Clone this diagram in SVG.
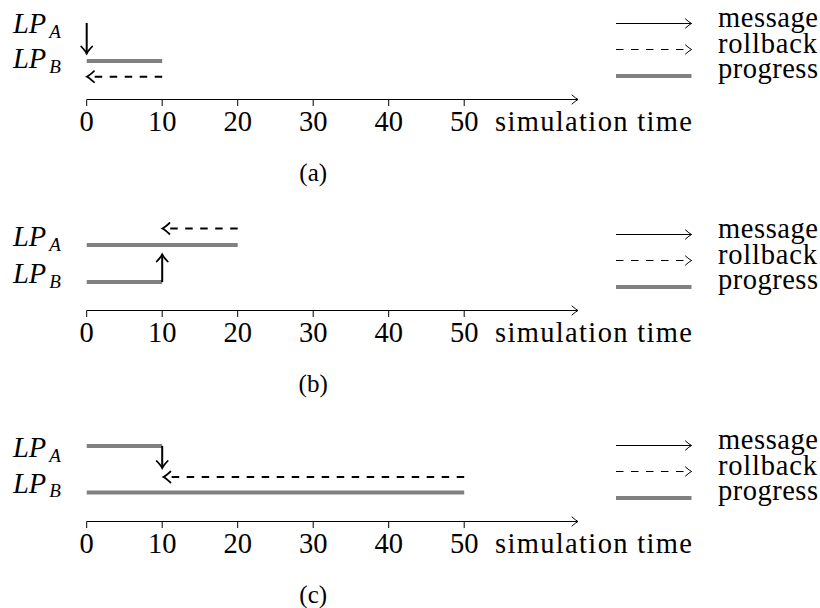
<svg xmlns="http://www.w3.org/2000/svg" width="820" height="608" viewBox="0 0 820 608">
<style>
text{font-family:"Liberation Serif","Tinos","Times New Roman","DejaVu Serif",serif}
.txt{font-size:28.5px;fill:#000}
.lp{font-style:italic;font-size:28.5px;fill:#000}
.sub{font-size:19px}
.num{text-anchor:middle}
.cap{font-size:25px;text-anchor:middle;fill:#000}
.prog{stroke:#808080;stroke-width:4;fill:none}
.msg{stroke:#000;stroke-width:2;fill:none;marker-end:url(#tipThick)}
.rb{stroke:#000;stroke-width:2;fill:none;stroke-dasharray:7.5 7.5;marker-end:url(#tipThick)}
.lmsg{stroke:#000;stroke-width:1;fill:none;marker-end:url(#tipThin)}
.lrb{stroke:#000;stroke-width:1;fill:none;stroke-dasharray:7.5 7.5;marker-end:url(#tipThin)}
.axis{stroke:#000;stroke-width:1;fill:none}
.axarrow{marker-end:url(#tipThin)}
</style>
<defs>
<marker id="tipThick" markerUnits="userSpaceOnUse" markerWidth="14" markerHeight="14" refX="0" refY="0" orient="auto" overflow="visible">
<path d="M-7,-5.5 Q-2.5,-1.2 0,0 Q-2.5,1.2 -7,5.5" fill="none" stroke="#000" stroke-width="1.8" stroke-linecap="round"/>
</marker>
<marker id="tipThin" markerUnits="userSpaceOnUse" markerWidth="14" markerHeight="14" refX="0" refY="0" orient="auto" overflow="visible">
<path d="M-6,-4.5 Q-2,-1 0,0 Q-2,1 -6,4.5" fill="none" stroke="#000" stroke-width="1" stroke-linecap="round"/>
</marker>
<g id="axisTpl">
<path class="axis axarrow" d="M86.7,99.5 H578"/>
<path class="axis" d="M86.7,99.5 V106 M162.2,99.5 V106 M237.7,99.5 V106 M313.2,99.5 V106 M388.7,99.5 V106 M464.2,99.5 V106"/>
<text class="txt num" x="86.7" y="131">0</text>
<text class="txt num" x="162.2" y="131">10</text>
<text class="txt num" x="237.7" y="131">20</text>
<text class="txt num" x="313.2" y="131">30</text>
<text class="txt num" x="388.7" y="131">40</text>
<text class="txt num" x="464.2" y="131">50</text>
<text class="txt" x="495" y="131" textLength="197" lengthAdjust="spacing">simulation time</text>
</g>
<g id="legendTpl">
<path class="lmsg" d="M616,23.5 H691.5"/>
<path class="lrb" d="M616,49.5 H691.5"/>
<path class="prog" d="M616,76 H691.5"/>
<text class="txt" x="718" y="27" textLength="100" lengthAdjust="spacing">message</text>
<text class="txt" x="718" y="53" textLength="99" lengthAdjust="spacing">rollback</text>
<text class="txt" x="718" y="78" textLength="100" lengthAdjust="spacing">progress</text>
</g>
</defs>

<!-- Panel (a) -->
<g id="panel-a">
<g id="a-LPA"><text class="lp" x="13" y="33">LP<tspan class="sub" dx="3" dy="4.5">A</tspan></text></g>
<g id="a-LPB"><text class="lp" x="13" y="68">LP<tspan class="sub" dx="3" dy="4.5">B</tspan></text>
<path class="prog" d="M86.7,61 H162.2"/></g>
<g id="a-connectors">
<path class="msg" d="M86.7,23 V53.5"/>
<path class="rb" d="M162.2,76.7 H87"/>
</g>
<g id="a-axis"><use href="#axisTpl"/></g>
<g id="a-legend"><use href="#legendTpl"/></g>
<text class="cap" x="313.2" y="181">(a)</text>
</g>

<!-- Panel (b) -->
<g id="panel-b" transform="translate(0,211)">
<g id="b-LPA"><text class="lp" x="13" y="35">LP<tspan class="sub" dx="3" dy="4.5">A</tspan></text>
<path class="prog" d="M86.7,34 H237.7"/></g>
<g id="b-LPB"><text class="lp" x="13" y="72">LP<tspan class="sub" dx="3" dy="4.5">B</tspan></text>
<path class="prog" d="M86.7,71 H162.2"/></g>
<g id="b-connectors">
<path class="rb" d="M237.7,17.5 H162.5"/>
<path class="msg" d="M162.2,71 V43.5"/>
</g>
<g id="b-axis"><use href="#axisTpl"/></g>
<g id="b-legend"><use href="#legendTpl"/></g>
<text class="cap" x="313.2" y="181">(b)</text>
</g>

<!-- Panel (c) -->
<g id="panel-c" transform="translate(0,422)">
<g id="c-LPA"><text class="lp" x="13" y="35">LP<tspan class="sub" dx="3" dy="4.5">A</tspan></text>
<path class="prog" d="M86.7,24 H162.2"/></g>
<g id="c-LPB"><text class="lp" x="13" y="70.5">LP<tspan class="sub" dx="3" dy="4.5">B</tspan></text>
<path class="prog" d="M86.7,70.5 H464.2"/></g>
<g id="c-connectors">
<path class="msg" d="M162.2,24 V46"/>
<path class="rb" d="M464.2,55 H163.5"/>
</g>
<g id="c-axis"><use href="#axisTpl"/></g>
<g id="c-legend"><use href="#legendTpl"/></g>
<text class="cap" x="313.2" y="181">(c)</text>
</g>
</svg>
